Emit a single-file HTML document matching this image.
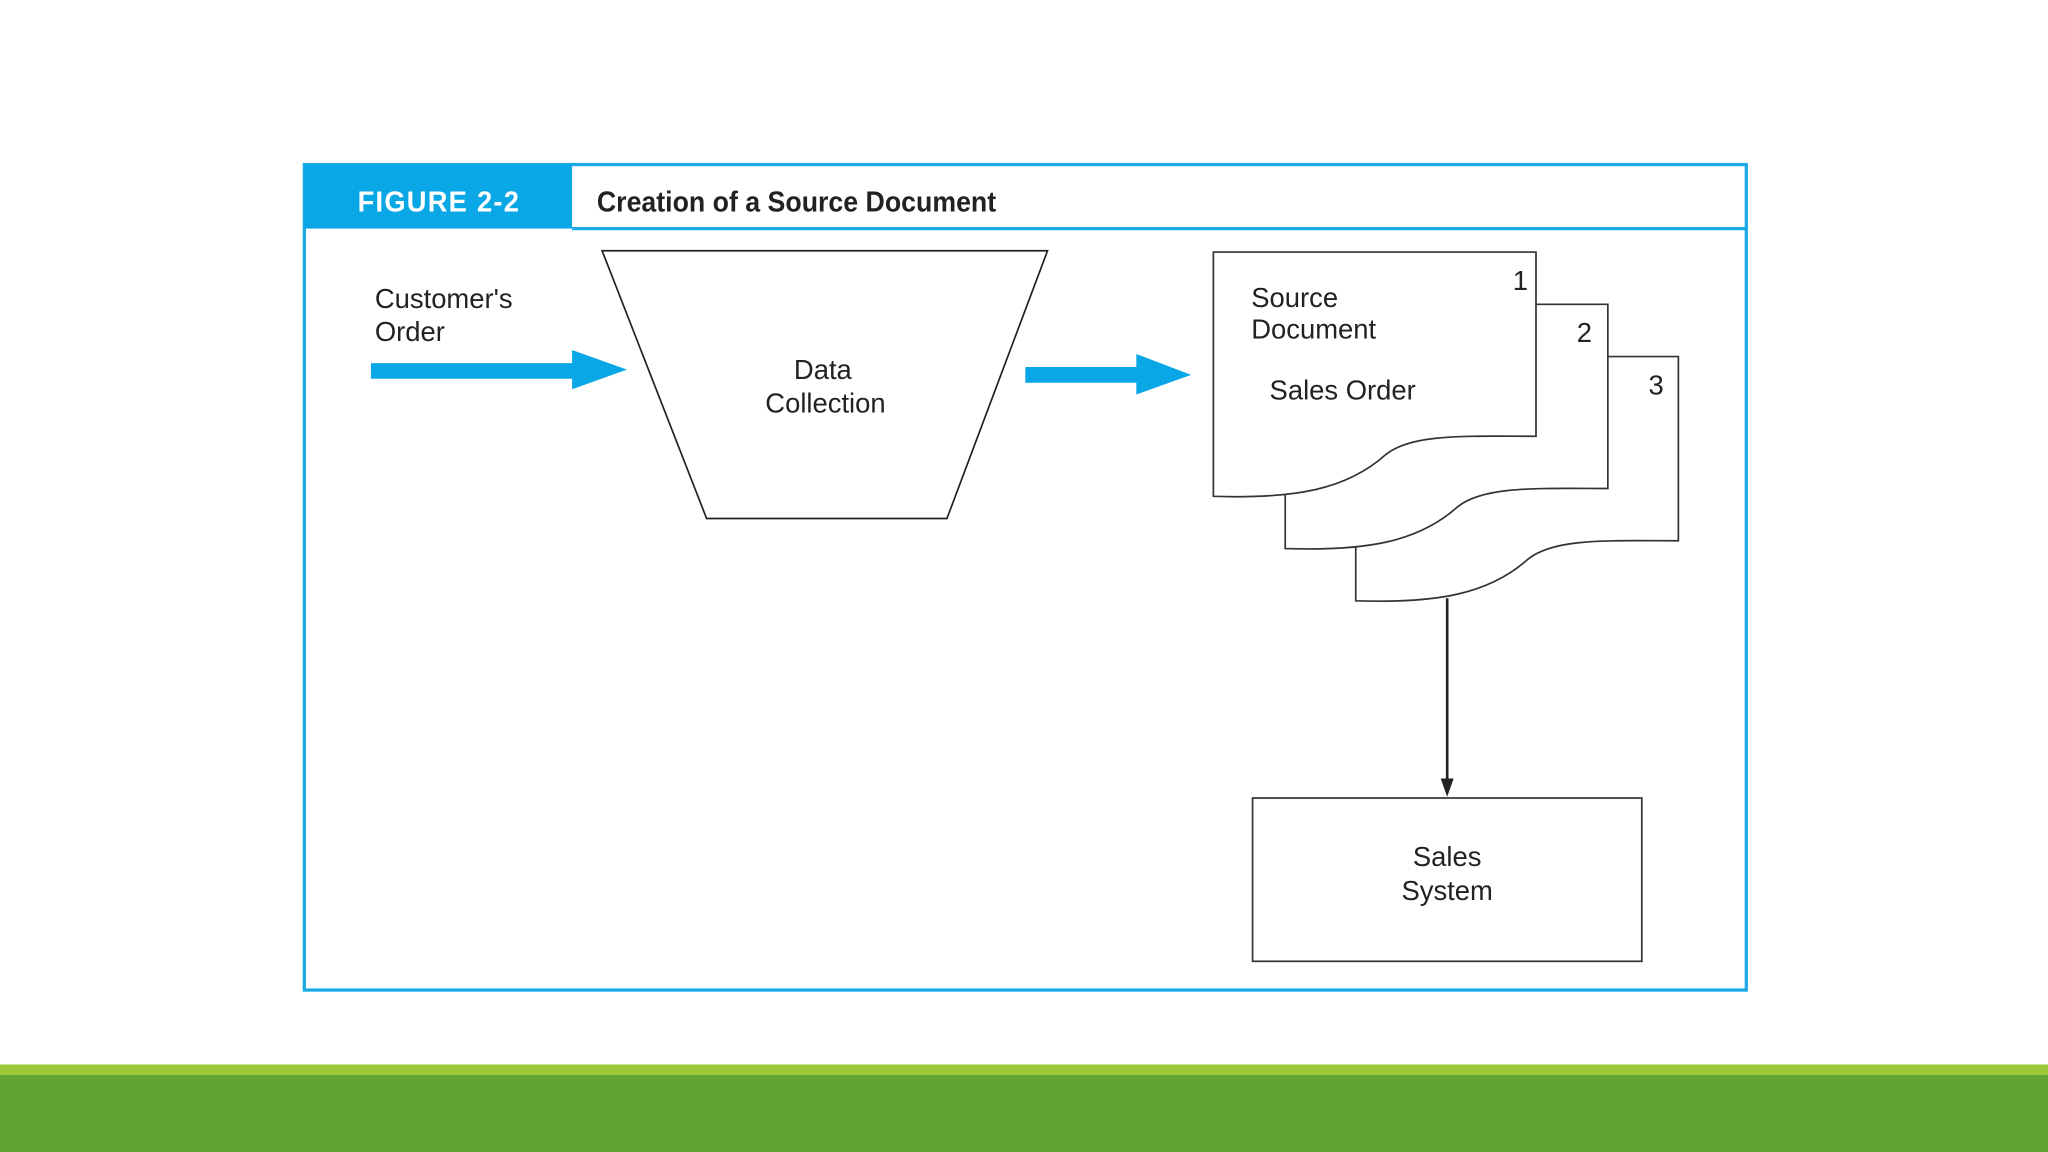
<!DOCTYPE html>
<html><head><meta charset="utf-8"><style>
html,body{margin:0;padding:0;background:#fff;width:2048px;height:1152px;overflow:hidden}
svg{display:block}
text{font-family:"Liberation Sans",Arial,sans-serif;fill:#222}
</style></head><body>
<svg width="2048" height="1152" viewBox="0 0 1568 882" preserveAspectRatio="none">
<rect x="0" y="0" width="1568" height="882" fill="#fff"/>
<rect x="233" y="126" width="1104" height="632" fill="#fff" stroke="#1aa9e6" stroke-width="2.5"/>
<rect x="233" y="126" width="205" height="49" fill="#0aa7e6"/>
<line x1="438" y1="175" x2="1337" y2="175" stroke="#1aa9e6" stroke-width="2.5"/>
<text x="336" y="162" text-anchor="middle" font-size="22" font-weight="bold" letter-spacing="1" style="fill:#fff" transform="translate(336 0) scale(0.95 1) translate(-336 0)">FIGURE 2-2</text>
<text x="457" y="162" font-size="22" font-weight="bold" style="fill:#222" transform="translate(457 0) scale(0.93 1) translate(-457 0)">Creation of a Source Document</text>
<text x="287" y="236" font-size="21">Customer's</text>
<text x="287" y="261" font-size="21">Order</text>
<polygon points="284,278 438,278 438,268 480,283 438,298 438,290 284,290" fill="#0aa7e6"/>
<polygon points="461,192 802,192 725,397 541,397" fill="#fff" stroke="#222" stroke-width="1.3"/>
<text x="630" y="290" text-anchor="middle" font-size="21">Data</text>
<text x="632" y="316" text-anchor="middle" font-size="21">Collection</text>
<polygon points="785,281 870,281 870,271 912,287 870,302 870,293 785,293" fill="#0aa7e6"/>
<g fill="#fff" stroke="#333" stroke-width="1.3">
<path d="M1038,273 H1285 V414 C1230,414 1190,412 1170,428 C1140,455 1100,462 1038,460 Z"/>
<path d="M984,233 H1231 V374 C1176,374 1136,372 1116,388 C1086,415 1046,422 984,420 Z"/>
<path d="M929,193 H1176 V334 C1121,334 1081,332 1061,348 C1031,375 991,382 929,380 Z"/>
</g>
<text x="1164" y="222" text-anchor="middle" font-size="21">1</text>
<text x="1213" y="262" text-anchor="middle" font-size="21">2</text>
<text x="1268" y="302" text-anchor="middle" font-size="21">3</text>
<text x="958" y="235" font-size="21">Source</text>
<text x="958" y="259" font-size="21">Document</text>
<text x="972" y="306" font-size="21">Sales Order</text>
<line x1="1108" y1="458" x2="1108" y2="598" stroke="#222" stroke-width="2"/>
<polygon points="1103,596 1113,596 1108,610" fill="#222"/>
<rect x="959" y="611" width="298" height="125" fill="#fff" stroke="#333" stroke-width="1.3"/>
<text x="1108" y="663" text-anchor="middle" font-size="21">Sales</text>
<text x="1108" y="689" text-anchor="middle" font-size="21">System</text>
<rect x="0" y="815" width="1568" height="8" fill="#9bc93a"/>
<rect x="0" y="823" width="1568" height="59" fill="#62a334"/>
</svg>
</body></html>
